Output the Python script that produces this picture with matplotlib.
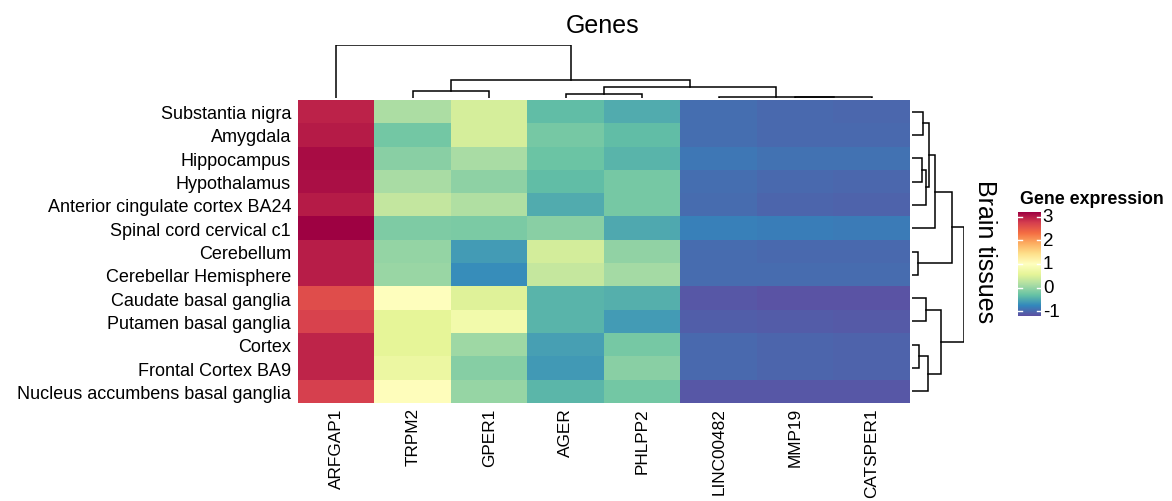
import numpy as np
import matplotlib
matplotlib.use("Agg")
import matplotlib.pyplot as plt

plt.rcParams['font.family'] = ['Liberation Sans', 'DejaVu Sans']

# genes (columns) and tissues (rows), already in dendrogram order
genes = ["ARFGAP1", "TRPM2", "GPER1", "AGER", "PHLPP2", "LINC00482", "MMP19", "CATSPER1"]
tissues = ["Substantia nigra", "Amygdala", "Hippocampus", "Hypothalamus",
           "Anterior cingulate cortex BA24", "Spinal cord cervical c1", "Cerebellum",
           "Cerebellar Hemisphere", "Caudate basal ganglia", "Putamen basal ganglia",
           "Cortex", "Frontal Cortex BA9", "Nucleus accumbens basal ganglia"]

substantia_nigra = [2.95, 0.13, 0.45, -0.35, -0.48, -0.94, -0.98, -0.99]
amygdala = [3.00, -0.22, 0.45, -0.20, -0.35, -0.94, -0.98, -0.97]
hippocampus = [3.10, -0.08, 0.12, -0.28, -0.42, -0.87, -0.90, -0.90]
hypothalamus = [3.08, 0.12, -0.05, -0.35, -0.20, -0.95, -0.97, -0.99]
anterior_cingulate = [3.00, 0.30, 0.17, -0.48, -0.20, -0.96, -1.01, -1.03]
spinal_cord = [3.19, -0.15, -0.18, -0.08, -0.50, -0.80, -0.82, -0.84]
cerebellum = [2.98, -0.02, -0.60, 0.42, -0.04, -0.96, -0.97, -0.97]
cerebellar_hemisphere = [2.98, 0.02, -0.70, 0.33, 0.08, -0.96, -0.96, -0.96]
caudate = [2.60, 1.00, 0.52, -0.42, -0.44, -1.12, -1.14, -1.14]
putamen = [2.70, 0.57, 0.78, -0.42, -0.60, -1.07, -1.08, -1.09]
cortex = [2.92, 0.57, 0.05, -0.56, -0.20, -0.97, -1.01, -1.03]
frontal_cortex = [2.92, 0.68, -0.10, -0.62, -0.08, -0.97, -1.01, -1.02]
nucleus_accumbens = [2.72, 1.02, 0.00, -0.40, -0.22, -1.12, -1.12, -1.12]

# merges (left, right, height) -- leaves are 0..n-1, new nodes numbered after
col_links = [(6, 7, 0.1), (5, 8, 0.3), (3, 4, 3.5), (1, 2, 6.8),
             (10, 9, 10.2), (11, 12, 17.5), (0, 13, 52.5)]
row_links = [(0, 1, 11.6), (2, 3, 10.6), (14, 4, 14.3), (13, 15, 17.6),
             (16, 5, 23.3), (6, 7, 6.0), (17, 18, 40.0), (8, 9, 14.0),
             (10, 11, 7.3), (21, 12, 16.0), (20, 22, 29.0), (19, 23, 52.6)]

legend_ticks = [3, 2, 1, 0, -1]
vmin, vmax = -1.19, 3.19

data = np.array([substantia_nigra, amygdala, hippocampus, hypothalamus, anterior_cingulate,
                 spinal_cord, cerebellum, cerebellar_hemisphere, caudate, putamen,
                 cortex, frontal_cortex, nucleus_accumbens])

W, H = 1172, 502
fig = plt.figure(figsize=(W / 100, H / 100), dpi=100)


def px_axes(x0, y0, x1, y1):
    # axes from pixel box (top-left origin)
    return fig.add_axes([x0 / W, 1 - y1 / H, (x1 - x0) / W, (y1 - y0) / H])


def dendro_segments(links, n):
    pos = {i: float(i) for i in range(n)}
    hgt = {i: 0.0 for i in range(n)}
    segs = []
    for k, (a, b, h) in enumerate(links):
        segs.append(([pos[a], pos[a], pos[b], pos[b]], [hgt[a], h, h, hgt[b]]))
        pos[n + k] = (pos[a] + pos[b]) / 2
        hgt[n + k] = h
    return segs


cmap = plt.get_cmap('Spectral_r')

# heatmap
ax = px_axes(298, 101, 910, 404)
ax.imshow(data, cmap=cmap, vmin=vmin, vmax=vmax, aspect='auto', interpolation='nearest')
ax.set_xticks(range(len(genes)))
ax.set_xticklabels(genes, rotation=90, fontsize=12.4)
ax.set_yticks(range(len(tissues)))
ax.set_yticklabels(tissues, fontsize=13)
ax.tick_params(length=0)
ax.tick_params(axis='y', pad=5)
ax.tick_params(axis='x', pad=3)
for s in ax.spines.values():
    s.set_visible(False)

# column dendrogram
axc = px_axes(298, 46, 910, 98.5)
for xs, ys in dendro_segments(col_links, len(genes)):
    axc.plot(xs, ys, color='black', lw=1.1, solid_joinstyle='miter')
axc.set_xlim(-0.5, len(genes) - 0.5)
axc.set_ylim(0, 52.5)
axc.axis('off')

# row dendrogram
axr = px_axes(911.7, 101, 964.3, 404)
for ys, xs in dendro_segments(row_links, len(tissues)):
    axr.plot(xs, ys, color='black', lw=1.1, solid_joinstyle='miter')
axr.set_ylim(len(tissues) - 0.5, -0.5)
axr.set_xlim(0, 52.6)
axr.axis('off')

fig.text(603 / W, 1 - 26 / H, "Genes", fontsize=18, ha='center', va='center')
fig.text(985 / W, 1 - 252 / H, "Brain tissues", fontsize=18, rotation=270,
         ha='center', va='center')

# legend
axl = px_axes(1018, 213.3, 1041, 316.7)
grad = np.linspace(vmax, vmin, 256).reshape(-1, 1)
axl.imshow(grad, cmap=cmap, vmin=vmin, vmax=vmax, aspect='auto',
           extent=[0, 1, vmin, vmax])
for t in legend_ticks:
    axl.plot([0, 0.18], [t, t], color='white', lw=1)
    axl.plot([0.82, 1], [t, t], color='white', lw=1)
    axl.text(1.08, t, str(t), fontsize=13.5, va='center', ha='left')
axl.set_xlim(0, 1)
axl.set_ylim(vmin, vmax)
axl.axis('off')
fig.text(1020 / W, 1 - 200 / H, "Gene expression", fontsize=12.8, fontweight='bold',
         ha='left', va='center')

fig.savefig("out.png", dpi=100)
